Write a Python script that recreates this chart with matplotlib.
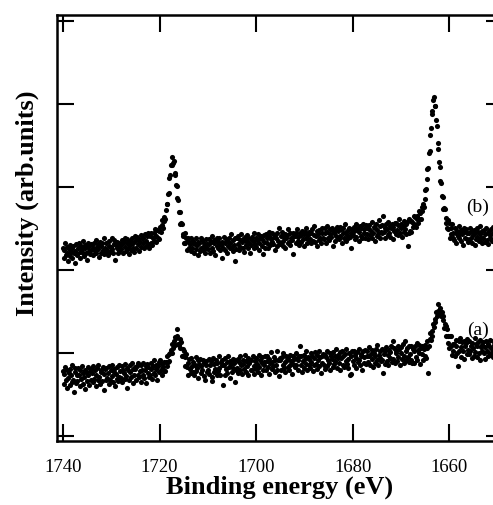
import numpy as np
import matplotlib
matplotlib.use("Agg")
import matplotlib.pyplot as plt

# ---- data -------------------------------------------------------------
# energy grid of the scan (eV), decreasing binding energy
E_START = 1740.0
E_STEP = 0.15

# spectrum (b): intensity x 100 (arb. units)
intensity_b_x100 = [
    227,215,224,232,218,221,228,211,225,230,217,222,226,214,229,220,208,223,231,219,
    218,227,232,222,215,229,225,220,235,217,226,230,221,212,228,233,223,219,231,224,
    230,218,227,233,223,236,220,228,225,231,216,234,229,221,232,224,238,219,227,222,
    233,224,218,229,235,222,228,238,225,220,231,236,212,230,226,234,221,232,223,229,
    225,236,231,221,234,228,239,223,232,237,226,219,235,230,224,238,227,233,222,241,
    235,226,240,231,237,223,234,242,228,238,232,238,227,243,235,229,241,231,245,226,
    241,232,245,230,239,244,235,249,234,241,248,238,247,237,252,246,254,260,251,259,
    264,261,272,280,279,291,293,311,314,327,327,336,329,331,317,315,302,301,287,284,
    270,270,255,257,255,241,243,232,244,233,239,224,235,238,227,231,223,239,227,233,
    235,221,231,238,225,230,218,234,232,223,239,227,236,224,229,233,220,237,226,231,
    225,237,231,221,234,241,227,223,236,232,218,235,229,238,226,233,239,224,230,214,
    234,227,240,224,232,237,221,235,229,239,226,233,243,228,223,236,230,211,238,225,
    238,231,241,224,236,228,243,234,227,237,222,240,230,235,242,226,239,232,220,237,
    230,240,235,226,245,231,239,228,236,243,233,224,238,241,229,237,219,242,234,227,
    243,233,238,227,241,246,230,237,234,244,231,240,224,242,239,229,245,235,250,232,
    231,241,246,235,229,240,243,226,238,242,233,249,234,244,230,239,236,245,219,241,
    241,232,244,249,235,240,230,245,242,234,247,237,243,229,246,239,250,233,242,236,
    246,237,232,244,249,235,242,253,234,241,229,247,243,236,248,238,233,245,250,239,
    237,250,244,233,246,253,239,236,249,243,240,251,229,247,245,235,248,241,252,238,
    247,237,252,241,249,233,244,250,239,255,235,246,242,248,238,251,240,245,226,249,
    242,252,247,237,255,240,248,251,235,246,253,241,250,238,256,244,249,239,254,243,
    251,237,249,254,242,247,239,258,244,252,235,250,255,241,248,243,260,238,253,246,
    244,254,265,246,251,239,256,249,242,258,245,253,240,250,255,237,252,247,257,243,
    257,248,254,242,261,245,251,256,240,253,259,246,249,255,243,258,229,244,262,247,
    259,246,258,252,265,255,264,252,261,265,257,271,262,269,262,276,271,280,276,285,
    296,297,310,322,323,341,343,363,371,388,391,405,409,398,398,381,373,353,346,330,
    324,307,305,289,288,273,275,273,257,263,250,260,249,257,238,251,243,255,238,244,
    236,250,244,233,247,241,253,238,245,235,248,243,230,246,251,239,249,237,244,234,
    245,236,251,239,247,233,242,248,230,244,237,250,240,246,235,243,253,238,232,247,
    238,248,234,243,250,236,245,231,247,242,239,249,235,244,252,237,233,246,241,248,
    240,
]

# spectrum (a): intensity x 100 (arb. units)
intensity_a_x100 = [
    78,63,75,83,67,58,80,70,76,61,81,73,65,85,68,53,77,82,64,74,
    66,82,74,60,79,69,84,63,76,71,80,57,77,66,83,73,62,78,68,81,
    76,65,84,69,79,60,74,82,67,86,71,63,80,77,66,83,55,75,81,68,
    82,70,76,63,84,67,79,72,86,65,77,81,60,75,69,83,66,85,71,78,
    70,84,65,79,76,69,87,72,82,58,80,67,85,77,71,88,64,81,74,83,
    81,68,84,74,88,71,78,65,85,80,73,88,70,80,84,64,87,76,83,71,
    73,88,81,69,84,76,91,73,81,86,68,84,89,77,91,79,74,87,83,78,
    89,78,89,84,97,89,99,90,100,104,100,111,106,114,119,110,118,121,129,111,
    110,117,106,113,96,105,97,103,84,95,99,83,88,74,93,81,94,76,84,77,
    89,74,86,95,78,82,91,70,87,93,76,84,80,92,72,88,67,90,85,77,
    79,93,75,86,90,71,66,94,77,87,81,92,73,88,78,96,82,74,89,85,
    91,62,86,73,94,81,89,76,96,83,70,90,87,77,93,82,88,65,92,80,
    82,93,76,89,96,79,86,75,92,87,81,98,77,90,84,94,73,88,91,80,
    91,79,96,84,75,90,94,81,87,77,98,83,92,73,88,95,80,89,85,97,
    79,90,96,83,93,75,88,101,81,89,84,95,77,92,86,102,80,91,72,94,
    92,79,95,86,100,82,89,77,97,91,83,94,80,98,85,90,75,96,87,93,
    83,100,86,94,79,91,97,109,85,96,77,90,98,82,93,87,102,80,95,85,
    93,82,100,89,96,78,94,85,101,87,98,81,92,103,84,95,76,97,88,99,
    86,98,81,95,103,84,92,88,100,80,96,93,83,101,87,97,90,105,82,94,
    98,88,101,80,94,103,86,96,83,99,90,105,87,93,82,100,74,97,75,102,
    90,103,86,98,94,82,101,89,105,92,85,99,96,80,102,88,95,104,87,97,
    102,89,97,107,86,99,93,104,83,100,96,88,105,91,110,85,98,94,103,90,
    92,105,76,99,87,102,107,90,98,85,104,94,101,109,89,114,93,106,88,100,
    103,90,109,95,105,86,100,107,93,111,97,88,115,102,91,106,95,108,89,99,
    92,109,88,105,88,102,108,95,112,91,104,100,110,87,106,99,109,92,105,97,
    110,94,114,106,76,108,117,124,116,126,120,135,131,141,137,149,145,151,159,148,
    149,154,144,150,140,145,130,135,133,121,129,112,121,106,121,108,120,98,111,102,
    111,97,109,116,100,84,114,103,118,95,107,113,102,115,93,108,112,99,117,104,
    99,114,103,109,94,112,106,97,118,101,111,95,108,113,100,116,91,107,110,102,
    113,100,107,93,115,102,111,96,109,116,98,106,101,114,95,110,104,118,99,108,
    104,
]

x_ticks = [1740, 1720, 1700, 1680, 1660]
y_ticks = [0, 1, 2, 3, 4, 5]
series_labels = ["(a)", "(b)"]
label_energy = 1654.1
label_levels = [1.29, 2.77]
x_title = "Binding energy (eV)"
y_title = "Intensity (arb.units)"

# ---- figure -----------------------------------------------------------
plt.rcParams["font.family"] = ["Liberation Serif", "DejaVu Serif"]

fig = plt.figure(figsize=(4.93, 5.06), dpi=100)
ax = fig.add_axes([57 / 493, 64 / 506, 446 / 493, 426 / 506])

for vals in (intensity_a_x100, intensity_b_x100):
    y = np.asarray(vals, dtype=float) / 100.0
    x = E_START - E_STEP * np.arange(len(y))
    ax.plot(x, y, linestyle="none", marker="o", ms=3.7, mew=0,
            color="black", clip_on=True)

for lab, lev in zip(series_labels, label_levels):
    ax.text(label_energy, lev, lab, fontsize=14, ha="center", va="center")

ax.set_xlim(1741.24, 1648.9)
ax.set_ylim(-0.06, 5.072)
ax.set_xticks(x_ticks)
ax.set_xticklabels([str(v) for v in x_ticks])
ax.set_yticks(y_ticks)
ax.set_yticklabels([])
ax.tick_params(direction="in", length=12.3, width=1.5, top=True, right=True,
               labelsize=13.5, pad=12.2, colors="black")
for s in ax.spines.values():
    s.set_linewidth(1.8)

ax.set_xlabel(x_title, fontsize=19, fontweight="bold", va="top")
ax.xaxis.set_label_coords(0.5, -0.079)
ax.set_ylabel(y_title, fontsize=19, fontweight="bold")
ax.yaxis.set_label_coords(-0.0405, 0.561)

fig.savefig("out.png", dpi=100)
